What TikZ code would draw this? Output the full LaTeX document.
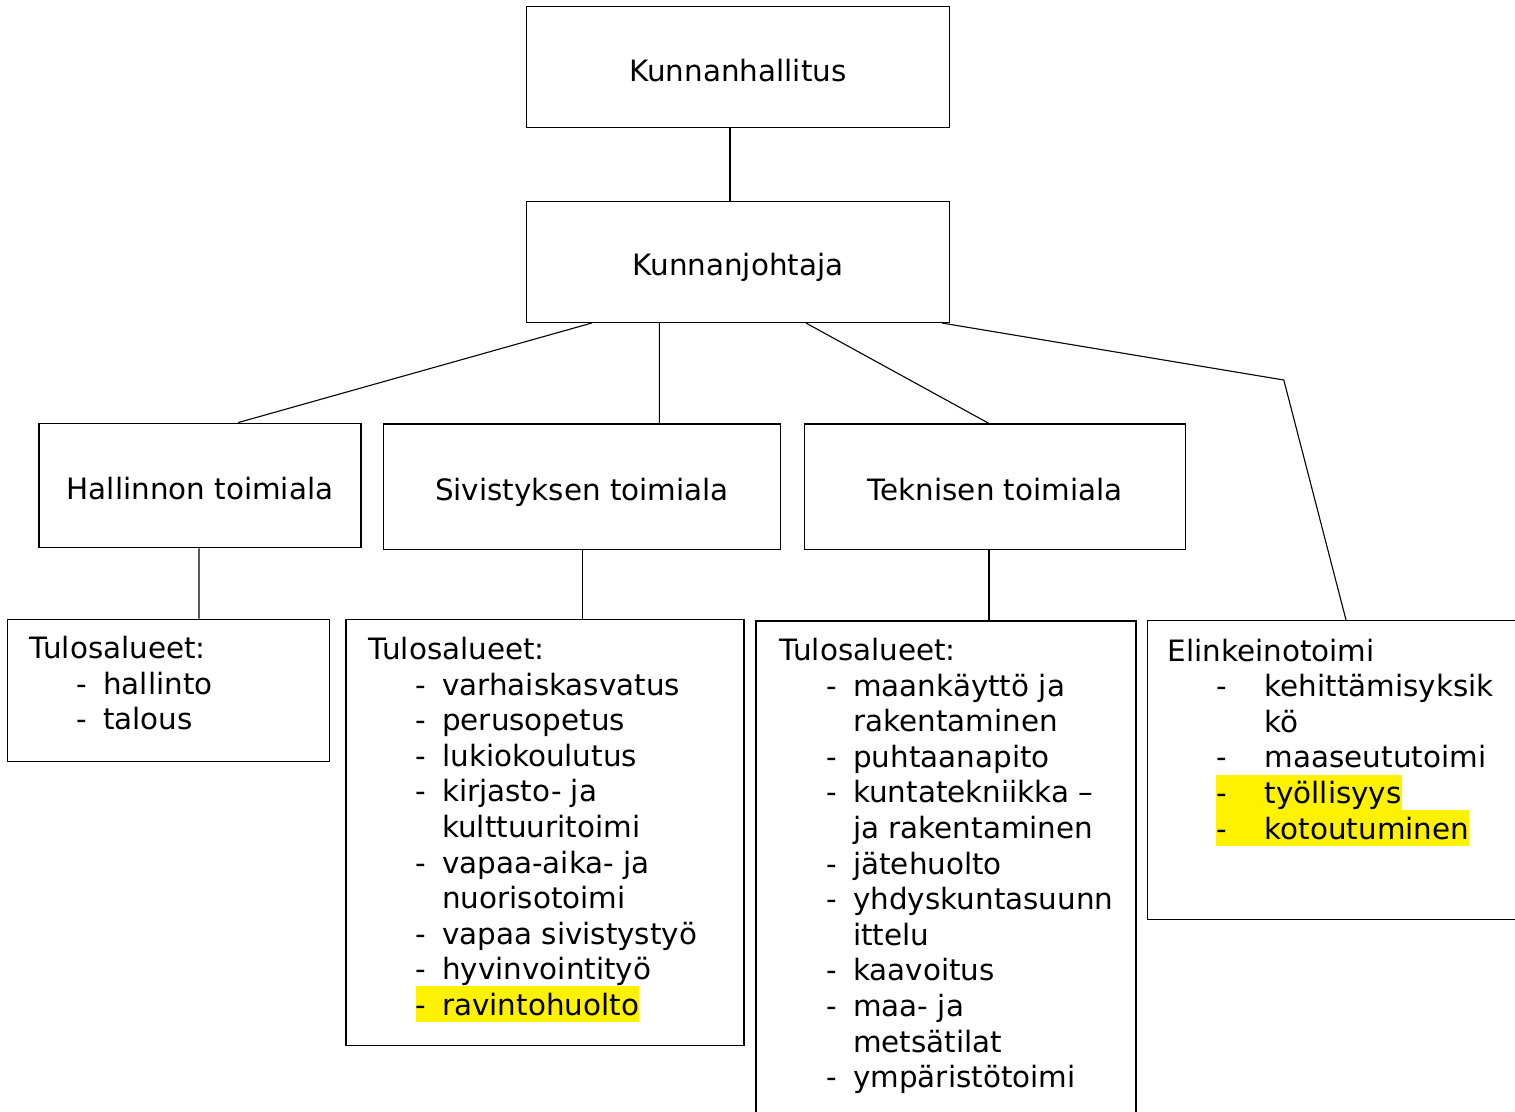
\documentclass[tikz,border=0pt]{standalone}
\usepackage{fontspec}
\setmainfont{DejaVu Sans}
\usetikzlibrary{calc}
\newlength\dind
\newlength\dwid
\newcommand\lstrut{\rule[-3.3pt]{0pt}{17.8pt}}
\newcommand\li[1]{\hspace*{\dind}\makebox[\dwid][l]{-}#1\lstrut}
\newcommand\lc[1]{\hspace*{\dimexpr\dind+\dwid\relax}#1\lstrut}
\newcommand\lh[1]{\hspace*{\dind}{\fboxsep=0pt\colorbox{yellow}{\makebox[\dwid][l]{-}#1\lstrut}}}
\begin{document}
\begin{tikzpicture}[x=0.5pt,y=-0.5pt,
  font=\fontsize{14.7pt}{17.8pt}\selectfont,
  box/.style={draw, line width=0.75pt, rectangle, inner sep=0pt, text height=14pt, text depth=0pt},
  conn/.style={line width=0.55pt},
  listtext/.style={anchor=north west, inner sep=0pt, align=left}]
\clip (0,0) rectangle (1515,1112);
\fill[white] (0,0) rectangle (1515,1112);
% boxes
\node[box, minimum width=211.3pt, minimum height=60.5pt] (KH) at (738,67.2) {Kunnanhallitus};
\node[box, minimum width=211.3pt, minimum height=60.3pt] (KJ) at (738,262) {Kunnanjohtaja};
\node[box, minimum width=161pt, minimum height=62.2pt] (Hall) at (200,485.5) {Hallinnon toimiala};
\node[box, minimum width=198.7pt, minimum height=62.65pt] (Siv) at (582,486.7) {Sivistyksen toimiala};
\node[box, minimum width=190.5pt, minimum height=62.65pt] (Tek) at (995.2,486.7) {Teknisen toimiala};
\node[box, minimum width=161pt, minimum height=71.2pt] (T1) at (168.3,690.5) {};
\node[box, minimum width=199pt, minimum height=213.2pt] (T2) at (545,832.5) {};
\node[box, minimum width=190pt, minimum height=260pt] (T3) at (946,881) {};
\node[box, minimum width=200pt, minimum height=149.3pt] (EL) at (1347.7,770) {};
% connectors
\draw[conn] ($(KH.south)+(-8,0)$) -- ($(KJ.north)+(-8,0)$);
\draw[conn] ($(KJ.south)+(-146.3,0)$) -- ($(Hall.north)+(38.3,0)$);
\draw[conn] ($(KJ.south)+(-78.7,0)$) -- ($(Siv.north)+(77.3,0)$);
\draw[conn] ($(KJ.south)+(68,0)$) -- ($(Tek.north)+(-6.5,0)$);
\coordinate (bend) at (1283.8,380);
\draw[conn] ($(KJ.south)+(204,0)$) -- (bend) -- ($(EL.north)+(-1.7,0)$);
\draw[conn] ($(Hall.south)+(-1,0)$) -- ($(T1.north)+(30.7,0)$);
\draw[conn] ($(Siv.south)+(0.3,0)$) -- ($(T2.north)+(37.3,0)$);
\draw[conn] ($(Tek.south)+(-6.2,0)$) -- ($(T3.north)+(43,0)$);
% lists
\setlength\dind{23.5pt}\setlength\dwid{13.25pt}
\node[listtext] (L1) at (29.3,629.3) {Tulosalueet:\lstrut\\
\li{hallinto}\\
\li{talous}};
\node[listtext] (L2) at (368.3,630) {Tulosalueet:\lstrut\\
\li{varhaiskasvatus}\\
\li{perusopetus}\\
\li{lukiokoulutus}\\
\li{kirjasto- ja}\\
\lc{kulttuuritoimi}\\
\li{vapaa-aika- ja}\\
\lc{nuorisotoimi}\\
\li{vapaa sivistystyö}\\
\li{hyvinvointityö}\\
\lh{ravintohuolto}};
\node[listtext] (L3) at (779.3,631) {Tulosalueet:\lstrut\\
\li{maankäyttö ja}\\
\lc{rakentaminen}\\
\li{puhtaanapito}\\
\li{kuntatekniikka –}\\
\lc{ja rakentaminen}\\
\li{jätehuolto}\\
\li{yhdyskuntasuunn}\\
\lc{ittelu}\\
\li{kaavoitus}\\
\li{maa- ja}\\
\lc{metsätilat}\\
\li{ympäristötoimi}};
\setlength\dind{24.25pt}\setlength\dwid{24.35pt}
\node[listtext] (L4) at (1167.2,631.7) {Elinkeinotoimi\lstrut\\
\li{kehittämisyksik}\\
\lc{kö}\\
\li{maaseututoimi}\\
\lh{työllisyys}\\
\lh{kotoutuminen}};
\end{tikzpicture}
\end{document}
